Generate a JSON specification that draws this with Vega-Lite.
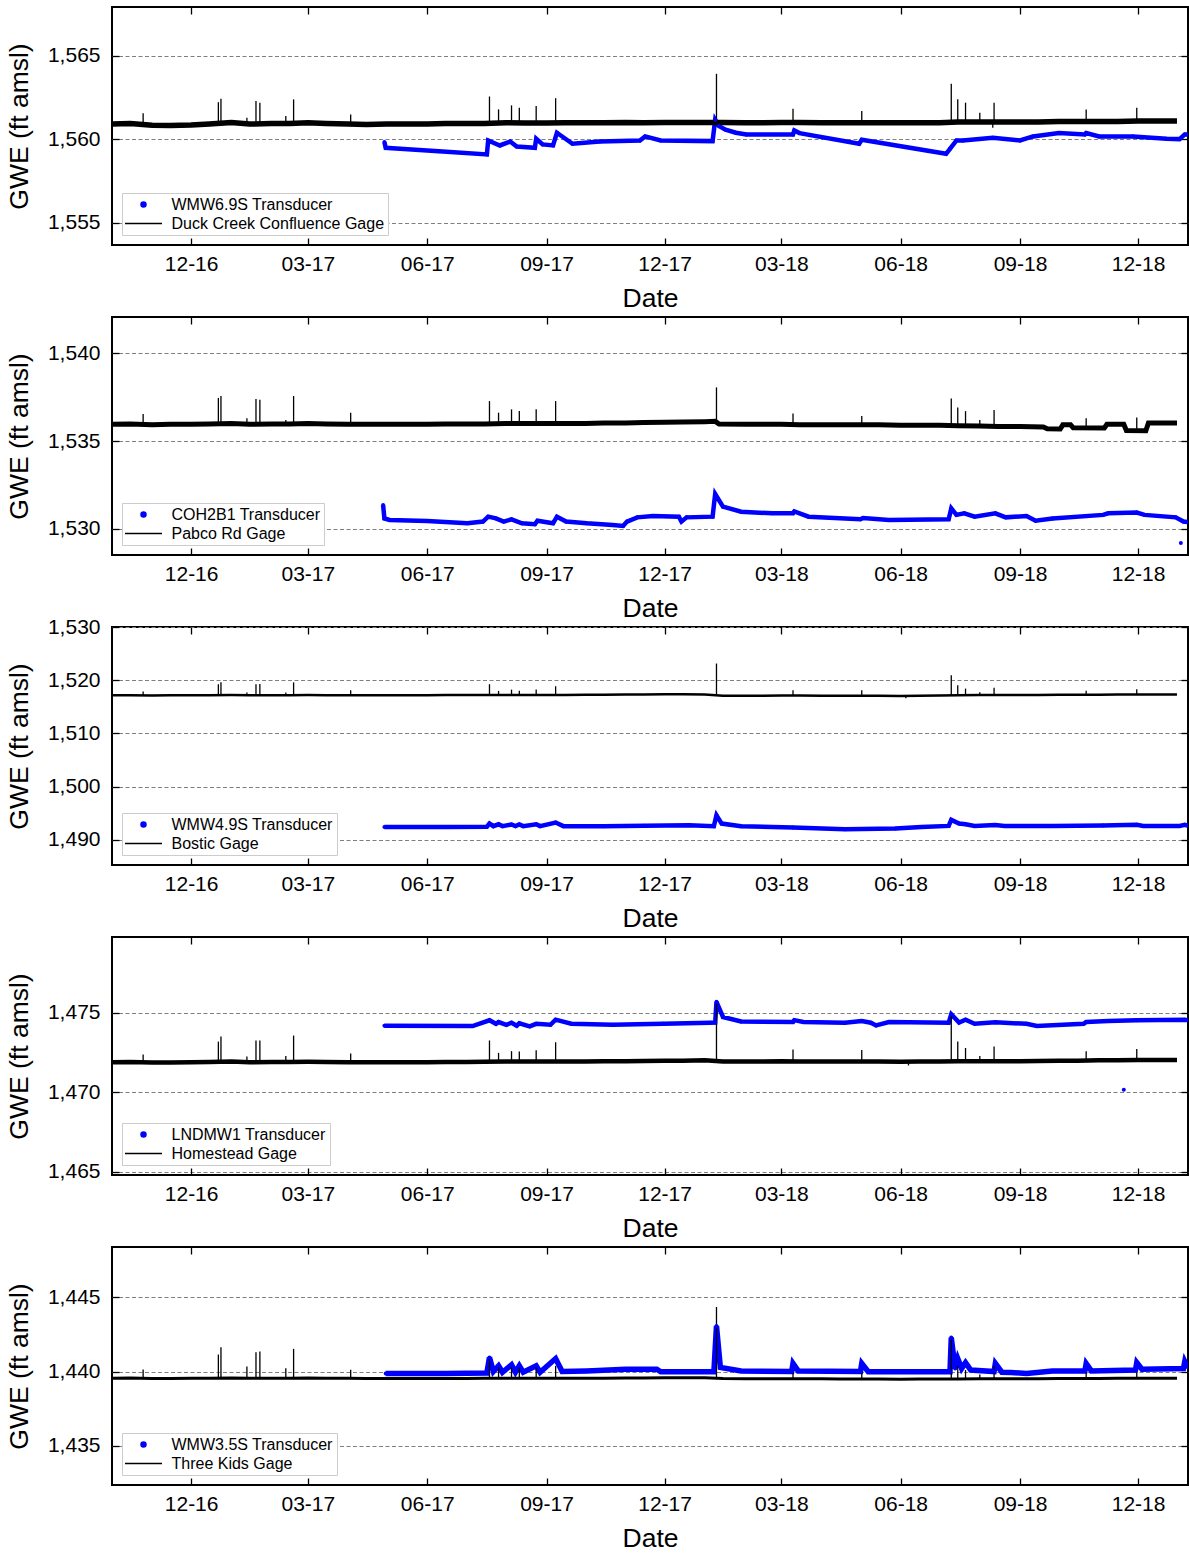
{
"$schema": "https://vega.github.io/schema/vega-lite/v6.json",
"padding": {"left": 5, "top": 5, "right": 0, "bottom": 0},
"background": "white",
"spacing": 72,
"bounds": "flush",
"datasets": {
"t1": [{"d":"2017-04-29","v":1559.85},{"d":"2017-04-30","v":1559.5},{"d":"2017-05-11","v":1559.44},{"d":"2017-06-10","v":1559.3},{"d":"2017-07-17","v":1559.1},{"d":"2017-07-18","v":1559.94},{"d":"2017-07-27","v":1559.64},{"d":"2017-08-04","v":1559.88},{"d":"2017-08-09","v":1559.58},{"d":"2017-08-23","v":1559.5},{"d":"2017-08-24","v":1560.04},{"d":"2017-08-29","v":1559.7},{"d":"2017-09-06","v":1559.64},{"d":"2017-09-09","v":1560.4},{"d":"2017-09-21","v":1559.74},{"d":"2017-10-12","v":1559.88},{"d":"2017-11-12","v":1559.94},{"d":"2017-11-16","v":1560.18},{"d":"2017-11-28","v":1559.94},{"d":"2018-01-07","v":1559.9},{"d":"2018-01-09","v":1561.18},{"d":"2018-01-12","v":1560.8},{"d":"2018-01-17","v":1560.58},{"d":"2018-01-25","v":1560.4},{"d":"2018-02-02","v":1560.3},{"d":"2018-03-10","v":1560.3},{"d":"2018-03-11","v":1560.54},{"d":"2018-03-15","v":1560.38},{"d":"2018-04-30","v":1559.74},{"d":"2018-05-02","v":1559.98},{"d":"2018-07-06","v":1559.14},{"d":"2018-07-09","v":1559.44},{"d":"2018-07-14","v":1559.94},{"d":"2018-07-19","v":1559.94},{"d":"2018-08-11","v":1560.1},{"d":"2018-09-01","v":1559.94},{"d":"2018-09-11","v":1560.18},{"d":"2018-10-01","v":1560.38},{"d":"2018-10-21","v":1560.3},{"d":"2018-10-22","v":1560.38},{"d":"2018-11-01","v":1560.18},{"d":"2018-11-27","v":1560.18},{"d":"2018-12-23","v":1560.04},{"d":"2019-01-02","v":1560.02},{"d":"2019-01-06","v":1560.3},{"d":"2019-01-08","v":1560.3}],
"g1": [{"d":"2016-10-01","v":1560.92},{"d":"2016-10-15","v":1560.95},{"d":"2016-11-01","v":1560.85},{"d":"2016-11-15","v":1560.84},{"d":"2016-12-01","v":1560.86},{"d":"2016-12-15","v":1560.92},{"d":"2017-01-01","v":1561.02},{"d":"2017-01-15","v":1560.92},{"d":"2017-02-01","v":1560.95},{"d":"2017-02-15","v":1560.95},{"d":"2017-03-01","v":1561.0},{"d":"2017-03-15","v":1560.96},{"d":"2017-04-01","v":1560.92},{"d":"2017-04-15","v":1560.9},{"d":"2017-05-01","v":1560.92},{"d":"2017-05-15","v":1560.92},{"d":"2017-06-01","v":1560.93},{"d":"2017-06-15","v":1560.95},{"d":"2017-07-01","v":1560.95},{"d":"2017-07-15","v":1560.95},{"d":"2017-08-01","v":1561.0},{"d":"2017-08-15","v":1560.98},{"d":"2017-09-01","v":1560.98},{"d":"2017-09-15","v":1561.0},{"d":"2017-10-01","v":1561.0},{"d":"2017-10-15","v":1561.0},{"d":"2017-11-01","v":1561.02},{"d":"2017-11-15","v":1561.0},{"d":"2017-12-01","v":1561.02},{"d":"2017-12-15","v":1561.02},{"d":"2018-01-01","v":1561.02},{"d":"2018-01-15","v":1561.02},{"d":"2018-02-01","v":1561.0},{"d":"2018-02-15","v":1561.0},{"d":"2018-03-01","v":1561.02},{"d":"2018-03-15","v":1561.02},{"d":"2018-04-01","v":1561.0},{"d":"2018-04-15","v":1561.0},{"d":"2018-05-01","v":1561.0},{"d":"2018-05-15","v":1561.0},{"d":"2018-06-01","v":1561.0},{"d":"2018-06-15","v":1561.0},{"d":"2018-07-01","v":1561.0},{"d":"2018-07-15","v":1561.05},{"d":"2018-08-01","v":1561.05},{"d":"2018-08-15","v":1561.05},{"d":"2018-09-01","v":1561.05},{"d":"2018-09-15","v":1561.05},{"d":"2018-10-01","v":1561.07},{"d":"2018-10-15","v":1561.07},{"d":"2018-11-01","v":1561.07},{"d":"2018-11-15","v":1561.08},{"d":"2018-12-01","v":1561.1},{"d":"2018-12-15","v":1561.1},{"d":"2018-12-31","v":1561.1}],
"s1": [{"d":"2016-10-25","v":1560.9,"p":1561.57},{"d":"2016-12-22","v":1560.9,"p":1562.23},{"d":"2016-12-24","v":1560.95,"p":1562.43},{"d":"2017-01-13","v":1560.95,"p":1561.3},{"d":"2017-01-20","v":1560.95,"p":1562.3},{"d":"2017-01-23","v":1560.95,"p":1562.2},{"d":"2017-02-12","v":1560.95,"p":1561.4},{"d":"2017-02-18","v":1560.95,"p":1562.4},{"d":"2017-04-03","v":1560.92,"p":1561.5},{"d":"2017-07-19","v":1560.95,"p":1562.57},{"d":"2017-07-26","v":1560.97,"p":1561.8},{"d":"2017-08-05","v":1561.0,"p":1562.04},{"d":"2017-08-11","v":1561.0,"p":1561.9},{"d":"2017-08-24","v":1561.0,"p":1562.0},{"d":"2017-09-08","v":1561.0,"p":1562.47},{"d":"2018-01-10","v":1561.02,"p":1563.93},{"d":"2018-03-10","v":1561.02,"p":1561.84},{"d":"2018-05-02","v":1561.0,"p":1561.7},{"d":"2018-07-10","v":1561.05,"p":1563.33},{"d":"2018-07-15","v":1561.05,"p":1562.4},{"d":"2018-07-21","v":1561.05,"p":1562.2},{"d":"2018-08-01","v":1561.05,"p":1561.6},{"d":"2018-08-11","v":1561.05,"p":1560.7},{"d":"2018-08-12","v":1561.05,"p":1562.2},{"d":"2018-10-22","v":1561.07,"p":1561.8},{"d":"2018-11-30","v":1561.1,"p":1561.9}],
"t2": [{"d":"2017-04-28","v":1531.36},{"d":"2017-04-29","v":1530.6},{"d":"2017-05-03","v":1530.51},{"d":"2017-06-01","v":1530.45},{"d":"2017-07-02","v":1530.32},{"d":"2017-07-14","v":1530.42},{"d":"2017-07-18","v":1530.7},{"d":"2017-07-24","v":1530.6},{"d":"2017-07-30","v":1530.42},{"d":"2017-08-05","v":1530.55},{"d":"2017-08-13","v":1530.32},{"d":"2017-08-23","v":1530.27},{"d":"2017-08-25","v":1530.47},{"d":"2017-09-06","v":1530.32},{"d":"2017-09-09","v":1530.7},{"d":"2017-09-16","v":1530.42},{"d":"2017-10-02","v":1530.32},{"d":"2017-10-22","v":1530.23},{"d":"2017-10-30","v":1530.17},{"d":"2017-11-02","v":1530.42},{"d":"2017-11-10","v":1530.66},{"d":"2017-11-22","v":1530.74},{"d":"2017-12-12","v":1530.7},{"d":"2017-12-14","v":1530.42},{"d":"2017-12-18","v":1530.66},{"d":"2018-01-07","v":1530.7},{"d":"2018-01-09","v":1531.99},{"d":"2018-01-15","v":1531.27},{"d":"2018-01-29","v":1530.98},{"d":"2018-02-22","v":1530.89},{"d":"2018-03-10","v":1530.89},{"d":"2018-03-11","v":1531.0},{"d":"2018-03-22","v":1530.7},{"d":"2018-05-01","v":1530.55},{"d":"2018-05-03","v":1530.62},{"d":"2018-05-23","v":1530.51},{"d":"2018-07-08","v":1530.55},{"d":"2018-07-10","v":1531.17},{"d":"2018-07-14","v":1530.8},{"d":"2018-07-20","v":1530.89},{"d":"2018-07-28","v":1530.7},{"d":"2018-08-13","v":1530.89},{"d":"2018-08-21","v":1530.66},{"d":"2018-09-06","v":1530.74},{"d":"2018-09-13","v":1530.47},{"d":"2018-09-26","v":1530.6},{"d":"2018-11-04","v":1530.8},{"d":"2018-11-08","v":1530.89},{"d":"2018-11-30","v":1530.93},{"d":"2018-12-06","v":1530.8},{"d":"2018-12-30","v":1530.66},{"d":"2019-01-05","v":1530.42},{"d":"2019-01-08","v":1530.4},{"d":"2019-01-03","v":1529.2,"o":1}],
"g2": [{"d":"2016-10-01","v":1535.95},{"d":"2016-10-15","v":1535.97},{"d":"2016-11-01","v":1535.93},{"d":"2016-11-15","v":1535.95},{"d":"2016-12-01","v":1535.95},{"d":"2016-12-15","v":1535.97},{"d":"2017-01-01","v":1536.0},{"d":"2017-01-15","v":1535.95},{"d":"2017-02-01","v":1535.97},{"d":"2017-02-15","v":1535.97},{"d":"2017-03-01","v":1536.0},{"d":"2017-03-15","v":1535.97},{"d":"2017-04-01","v":1535.95},{"d":"2017-04-15","v":1535.95},{"d":"2017-05-01","v":1535.95},{"d":"2017-05-15","v":1535.95},{"d":"2017-06-01","v":1535.95},{"d":"2017-06-15","v":1535.97},{"d":"2017-07-01","v":1535.97},{"d":"2017-07-15","v":1535.97},{"d":"2017-08-01","v":1536.0},{"d":"2017-08-15","v":1536.0},{"d":"2017-09-01","v":1536.0},{"d":"2017-09-15","v":1536.0},{"d":"2017-10-01","v":1536.0},{"d":"2017-10-15","v":1536.02},{"d":"2017-11-01","v":1536.03},{"d":"2017-11-15","v":1536.05},{"d":"2017-12-01","v":1536.07},{"d":"2017-12-15","v":1536.08},{"d":"2018-01-01","v":1536.1},{"d":"2018-01-09","v":1536.12},{"d":"2018-01-12","v":1535.97},{"d":"2018-02-01","v":1535.95},{"d":"2018-02-15","v":1535.95},{"d":"2018-03-01","v":1535.95},{"d":"2018-03-15","v":1535.93},{"d":"2018-04-01","v":1535.93},{"d":"2018-04-15","v":1535.92},{"d":"2018-05-01","v":1535.92},{"d":"2018-05-15","v":1535.92},{"d":"2018-06-01","v":1535.9},{"d":"2018-06-15","v":1535.9},{"d":"2018-07-01","v":1535.9},{"d":"2018-07-15","v":1535.87},{"d":"2018-08-01","v":1535.85},{"d":"2018-08-15","v":1535.83},{"d":"2018-09-01","v":1535.82},{"d":"2018-09-19","v":1535.8},{"d":"2018-09-22","v":1535.7},{"d":"2018-10-02","v":1535.68},{"d":"2018-10-04","v":1535.92},{"d":"2018-10-10","v":1535.92},{"d":"2018-10-12","v":1535.75},{"d":"2018-11-05","v":1535.74},{"d":"2018-11-07","v":1535.95},{"d":"2018-11-20","v":1535.95},{"d":"2018-11-22","v":1535.6},{"d":"2018-12-07","v":1535.58},{"d":"2018-12-09","v":1536.02},{"d":"2018-12-20","v":1536.03},{"d":"2018-12-31","v":1536.03}],
"s2": [{"d":"2016-10-25","v":1535.95,"p":1536.53},{"d":"2016-12-22","v":1535.96,"p":1537.45},{"d":"2016-12-24","v":1535.97,"p":1537.56},{"d":"2017-01-13","v":1535.96,"p":1536.3},{"d":"2017-01-20","v":1535.96,"p":1537.39},{"d":"2017-01-23","v":1535.96,"p":1537.35},{"d":"2017-02-12","v":1535.97,"p":1536.2},{"d":"2017-02-18","v":1535.97,"p":1537.56},{"d":"2017-04-03","v":1535.95,"p":1536.6},{"d":"2017-07-19","v":1535.97,"p":1537.27},{"d":"2017-07-26","v":1535.98,"p":1536.61},{"d":"2017-08-05","v":1536.0,"p":1536.8},{"d":"2017-08-11","v":1536.0,"p":1536.7},{"d":"2017-08-24","v":1536.0,"p":1536.8},{"d":"2017-09-08","v":1536.0,"p":1537.27},{"d":"2018-01-10","v":1536.05,"p":1538.05},{"d":"2018-03-10","v":1535.95,"p":1536.57},{"d":"2018-05-02","v":1535.92,"p":1536.42},{"d":"2018-07-10","v":1535.88,"p":1537.42},{"d":"2018-07-15","v":1535.87,"p":1536.91},{"d":"2018-07-21","v":1535.86,"p":1536.7},{"d":"2018-08-01","v":1535.85,"p":1536.19},{"d":"2018-08-12","v":1535.84,"p":1536.76},{"d":"2018-10-22","v":1535.74,"p":1536.29},{"d":"2018-11-30","v":1535.6,"p":1536.34}],
"t3": [{"d":"2017-04-29","v":1492.45},{"d":"2017-06-15","v":1492.45},{"d":"2017-07-17","v":1492.5},{"d":"2017-07-19","v":1493.08},{"d":"2017-07-22","v":1492.6},{"d":"2017-07-26","v":1492.95},{"d":"2017-07-29","v":1492.6},{"d":"2017-08-05","v":1492.9},{"d":"2017-08-08","v":1492.6},{"d":"2017-08-11","v":1492.9},{"d":"2017-08-14","v":1492.6},{"d":"2017-08-24","v":1492.95},{"d":"2017-08-27","v":1492.6},{"d":"2017-09-08","v":1493.27},{"d":"2017-09-14","v":1492.6},{"d":"2017-10-15","v":1492.6},{"d":"2017-11-15","v":1492.65},{"d":"2017-12-20","v":1492.75},{"d":"2018-01-08","v":1492.6},{"d":"2018-01-10","v":1494.65},{"d":"2018-01-14","v":1493.08},{"d":"2018-01-29","v":1492.58},{"d":"2018-03-10","v":1492.33},{"d":"2018-04-19","v":1492.0},{"d":"2018-05-28","v":1492.14},{"d":"2018-06-17","v":1492.45},{"d":"2018-07-08","v":1492.64},{"d":"2018-07-10","v":1493.77},{"d":"2018-07-16","v":1493.08},{"d":"2018-07-21","v":1492.95},{"d":"2018-07-28","v":1492.64},{"d":"2018-08-13","v":1492.8},{"d":"2018-08-20","v":1492.64},{"d":"2018-09-26","v":1492.64},{"d":"2018-11-04","v":1492.7},{"d":"2018-11-30","v":1492.85},{"d":"2018-12-05","v":1492.64},{"d":"2019-01-02","v":1492.64},{"d":"2019-01-06","v":1492.85},{"d":"2019-01-08","v":1492.7}],
"g3": [{"d":"2016-10-01","v":1517.18},{"d":"2016-10-15","v":1517.2},{"d":"2016-11-01","v":1517.15},{"d":"2016-11-15","v":1517.18},{"d":"2016-12-01","v":1517.2},{"d":"2016-12-15","v":1517.2},{"d":"2017-01-01","v":1517.22},{"d":"2017-01-15","v":1517.18},{"d":"2017-02-01","v":1517.2},{"d":"2017-02-15","v":1517.2},{"d":"2017-03-01","v":1517.22},{"d":"2017-03-15","v":1517.2},{"d":"2017-04-01","v":1517.18},{"d":"2017-04-15","v":1517.2},{"d":"2017-05-01","v":1517.2},{"d":"2017-05-15","v":1517.2},{"d":"2017-06-01","v":1517.2},{"d":"2017-06-15","v":1517.22},{"d":"2017-07-01","v":1517.22},{"d":"2017-07-15","v":1517.22},{"d":"2017-08-01","v":1517.25},{"d":"2017-08-15","v":1517.25},{"d":"2017-09-01","v":1517.25},{"d":"2017-09-15","v":1517.25},{"d":"2017-10-01","v":1517.27},{"d":"2017-10-15","v":1517.28},{"d":"2017-11-01","v":1517.3},{"d":"2017-11-15","v":1517.32},{"d":"2017-12-01","v":1517.35},{"d":"2017-12-15","v":1517.35},{"d":"2018-01-01","v":1517.32},{"d":"2018-01-15","v":1517.1},{"d":"2018-02-01","v":1517.1},{"d":"2018-02-15","v":1517.1},{"d":"2018-03-01","v":1517.12},{"d":"2018-03-15","v":1517.12},{"d":"2018-04-01","v":1517.1},{"d":"2018-04-15","v":1517.1},{"d":"2018-05-01","v":1517.1},{"d":"2018-05-15","v":1517.08},{"d":"2018-06-01","v":1517.05},{"d":"2018-06-15","v":1517.08},{"d":"2018-07-01","v":1517.12},{"d":"2018-07-15","v":1517.2},{"d":"2018-08-01","v":1517.22},{"d":"2018-08-15","v":1517.25},{"d":"2018-09-01","v":1517.25},{"d":"2018-09-15","v":1517.25},{"d":"2018-10-01","v":1517.27},{"d":"2018-10-15","v":1517.27},{"d":"2018-11-01","v":1517.28},{"d":"2018-11-15","v":1517.3},{"d":"2018-12-01","v":1517.32},{"d":"2018-12-15","v":1517.32},{"d":"2018-12-31","v":1517.32}],
"s3": [{"d":"2016-10-25","v":1517.2,"p":1517.9},{"d":"2016-12-22","v":1517.2,"p":1519.25},{"d":"2016-12-24","v":1517.2,"p":1519.6},{"d":"2017-01-13","v":1517.2,"p":1517.7},{"d":"2017-01-20","v":1517.2,"p":1519.25},{"d":"2017-01-23","v":1517.2,"p":1519.3},{"d":"2017-02-12","v":1517.2,"p":1517.7},{"d":"2017-02-18","v":1517.2,"p":1519.6},{"d":"2017-04-03","v":1517.18,"p":1518.1},{"d":"2017-07-19","v":1517.22,"p":1519.25},{"d":"2017-07-26","v":1517.23,"p":1518.0},{"d":"2017-08-05","v":1517.25,"p":1518.24},{"d":"2017-08-11","v":1517.25,"p":1518.05},{"d":"2017-08-24","v":1517.25,"p":1518.24},{"d":"2017-09-08","v":1517.25,"p":1518.87},{"d":"2018-01-10","v":1517.2,"p":1523.14},{"d":"2018-03-10","v":1517.12,"p":1518.1},{"d":"2018-05-02","v":1517.1,"p":1518.1},{"d":"2018-06-05","v":1517.05,"p":1516.6},{"d":"2018-07-10","v":1517.15,"p":1520.94},{"d":"2018-07-15","v":1517.2,"p":1519.06},{"d":"2018-07-21","v":1517.2,"p":1518.43},{"d":"2018-08-01","v":1517.22,"p":1517.74},{"d":"2018-08-12","v":1517.24,"p":1518.6},{"d":"2018-10-22","v":1517.27,"p":1518.05},{"d":"2018-11-30","v":1517.32,"p":1518.3}],
"t4": [{"d":"2017-04-29","v":1474.2},{"d":"2017-07-06","v":1474.18},{"d":"2017-07-19","v":1474.54},{"d":"2017-07-24","v":1474.32},{"d":"2017-07-26","v":1474.43},{"d":"2017-08-01","v":1474.26},{"d":"2017-08-05","v":1474.39},{"d":"2017-08-09","v":1474.2},{"d":"2017-08-11","v":1474.35},{"d":"2017-08-19","v":1474.16},{"d":"2017-08-24","v":1474.32},{"d":"2017-09-04","v":1474.26},{"d":"2017-09-08","v":1474.58},{"d":"2017-09-20","v":1474.33},{"d":"2017-10-22","v":1474.26},{"d":"2017-11-30","v":1474.33},{"d":"2018-01-05","v":1474.39},{"d":"2018-01-09","v":1474.4},{"d":"2018-01-10","v":1475.7},{"d":"2018-01-15","v":1474.75},{"d":"2018-01-29","v":1474.47},{"d":"2018-03-10","v":1474.43},{"d":"2018-03-11","v":1474.55},{"d":"2018-03-18","v":1474.43},{"d":"2018-04-19","v":1474.39},{"d":"2018-05-02","v":1474.49},{"d":"2018-05-09","v":1474.39},{"d":"2018-05-13","v":1474.22},{"d":"2018-05-23","v":1474.43},{"d":"2018-07-08","v":1474.39},{"d":"2018-07-10","v":1474.92},{"d":"2018-07-16","v":1474.4},{"d":"2018-07-21","v":1474.58},{"d":"2018-07-28","v":1474.32},{"d":"2018-08-13","v":1474.41},{"d":"2018-09-06","v":1474.32},{"d":"2018-09-14","v":1474.18},{"d":"2018-10-20","v":1474.32},{"d":"2018-10-22","v":1474.43},{"d":"2018-11-08","v":1474.49},{"d":"2018-11-30","v":1474.54},{"d":"2019-01-06","v":1474.58},{"d":"2019-01-08","v":1474.55},{"d":"2018-11-20","v":1470.17,"o":1}],
"g4": [{"d":"2016-10-01","v":1471.9},{"d":"2016-10-15","v":1471.92},{"d":"2016-11-01","v":1471.88},{"d":"2016-11-15","v":1471.88},{"d":"2016-12-01","v":1471.9},{"d":"2016-12-15","v":1471.92},{"d":"2017-01-01","v":1471.95},{"d":"2017-01-15","v":1471.9},{"d":"2017-02-01","v":1471.92},{"d":"2017-02-15","v":1471.92},{"d":"2017-03-01","v":1471.93},{"d":"2017-03-15","v":1471.92},{"d":"2017-04-01","v":1471.9},{"d":"2017-04-15","v":1471.9},{"d":"2017-05-01","v":1471.9},{"d":"2017-05-15","v":1471.9},{"d":"2017-06-01","v":1471.9},{"d":"2017-06-15","v":1471.92},{"d":"2017-07-01","v":1471.92},{"d":"2017-07-15","v":1471.93},{"d":"2017-08-01","v":1471.95},{"d":"2017-08-15","v":1471.95},{"d":"2017-09-01","v":1471.95},{"d":"2017-09-15","v":1471.95},{"d":"2017-10-01","v":1471.95},{"d":"2017-10-15","v":1471.97},{"d":"2017-11-01","v":1471.97},{"d":"2017-11-15","v":1471.98},{"d":"2017-12-01","v":1472.0},{"d":"2017-12-15","v":1472.0},{"d":"2018-01-01","v":1472.02},{"d":"2018-01-15","v":1471.95},{"d":"2018-02-01","v":1471.95},{"d":"2018-02-15","v":1471.95},{"d":"2018-03-01","v":1471.97},{"d":"2018-03-15","v":1471.95},{"d":"2018-04-01","v":1471.95},{"d":"2018-04-15","v":1471.95},{"d":"2018-05-01","v":1471.95},{"d":"2018-05-15","v":1471.95},{"d":"2018-06-01","v":1471.93},{"d":"2018-06-15","v":1471.95},{"d":"2018-07-01","v":1471.95},{"d":"2018-07-15","v":1471.97},{"d":"2018-08-01","v":1471.97},{"d":"2018-08-15","v":1471.97},{"d":"2018-09-01","v":1471.97},{"d":"2018-09-15","v":1471.98},{"d":"2018-10-01","v":1472.0},{"d":"2018-10-15","v":1472.0},{"d":"2018-11-01","v":1472.02},{"d":"2018-11-15","v":1472.03},{"d":"2018-12-01","v":1472.05},{"d":"2018-12-15","v":1472.05},{"d":"2018-12-31","v":1472.05}],
"s4": [{"d":"2016-10-25","v":1471.9,"p":1472.39},{"d":"2016-12-22","v":1471.92,"p":1473.2},{"d":"2016-12-24","v":1471.92,"p":1473.52},{"d":"2017-01-13","v":1471.92,"p":1472.26},{"d":"2017-01-20","v":1471.92,"p":1473.27},{"d":"2017-01-23","v":1471.92,"p":1473.27},{"d":"2017-02-12","v":1471.92,"p":1472.3},{"d":"2017-02-18","v":1471.92,"p":1473.58},{"d":"2017-04-03","v":1471.9,"p":1472.45},{"d":"2017-07-19","v":1471.93,"p":1473.27},{"d":"2017-07-26","v":1471.94,"p":1472.49},{"d":"2017-08-05","v":1471.95,"p":1472.6},{"d":"2017-08-11","v":1471.95,"p":1472.58},{"d":"2017-08-24","v":1471.95,"p":1472.65},{"d":"2017-09-08","v":1471.95,"p":1473.16},{"d":"2018-01-10","v":1471.98,"p":1475.8},{"d":"2018-03-10","v":1471.96,"p":1472.7},{"d":"2018-05-02","v":1471.95,"p":1472.68},{"d":"2018-06-07","v":1471.93,"p":1471.7},{"d":"2018-07-10","v":1471.96,"p":1474.96},{"d":"2018-07-15","v":1471.97,"p":1473.2},{"d":"2018-07-21","v":1471.97,"p":1472.8},{"d":"2018-08-01","v":1471.97,"p":1472.3},{"d":"2018-08-12","v":1471.97,"p":1472.89},{"d":"2018-10-22","v":1472.0,"p":1472.6},{"d":"2018-11-30","v":1472.05,"p":1472.74}],
"t5": [{"d":"2017-04-30","v":1439.87},{"d":"2017-06-15","v":1439.87},{"d":"2017-07-17","v":1439.9},{"d":"2017-07-19","v":1440.94},{"d":"2017-07-22","v":1440.0},{"d":"2017-07-26","v":1440.38},{"d":"2017-07-29","v":1439.95},{"d":"2017-08-05","v":1440.45},{"d":"2017-08-08","v":1439.95},{"d":"2017-08-11","v":1440.38},{"d":"2017-08-14","v":1439.95},{"d":"2017-08-24","v":1440.38},{"d":"2017-08-27","v":1439.95},{"d":"2017-09-08","v":1440.87},{"d":"2017-09-13","v":1440.0},{"d":"2017-10-02","v":1440.04},{"d":"2017-11-01","v":1440.15},{"d":"2017-11-25","v":1440.15},{"d":"2017-11-28","v":1439.98},{"d":"2018-01-08","v":1439.98},{"d":"2018-01-10","v":1443.06},{"d":"2018-01-13","v":1440.27},{"d":"2018-01-29","v":1440.04},{"d":"2018-03-09","v":1440.0},{"d":"2018-03-10","v":1440.54},{"d":"2018-03-14","v":1440.04},{"d":"2018-05-01","v":1440.0},{"d":"2018-05-02","v":1440.54},{"d":"2018-05-07","v":1439.98},{"d":"2018-07-09","v":1439.98},{"d":"2018-07-10","v":1442.28},{"d":"2018-07-13","v":1440.2},{"d":"2018-07-15","v":1440.87},{"d":"2018-07-18","v":1440.2},{"d":"2018-07-21","v":1440.6},{"d":"2018-07-25","v":1440.1},{"d":"2018-08-12","v":1440.0},{"d":"2018-08-13","v":1440.54},{"d":"2018-08-18","v":1439.95},{"d":"2018-08-25","v":1439.93},{"d":"2018-09-06","v":1439.87},{"d":"2018-09-26","v":1440.04},{"d":"2018-10-21","v":1440.04},{"d":"2018-10-22","v":1440.54},{"d":"2018-10-26","v":1440.04},{"d":"2018-11-29","v":1440.1},{"d":"2018-11-30","v":1440.6},{"d":"2018-12-04","v":1440.15},{"d":"2019-01-05","v":1440.2},{"d":"2019-01-06","v":1440.67},{"d":"2019-01-08","v":1440.3}],
"g5": [{"d":"2016-10-01","v":1439.55},{"d":"2016-10-15","v":1439.57},{"d":"2016-11-01","v":1439.53},{"d":"2016-11-15","v":1439.53},{"d":"2016-12-01","v":1439.55},{"d":"2016-12-15","v":1439.55},{"d":"2017-01-01","v":1439.57},{"d":"2017-01-15","v":1439.55},{"d":"2017-02-01","v":1439.55},{"d":"2017-02-15","v":1439.55},{"d":"2017-03-01","v":1439.57},{"d":"2017-03-15","v":1439.55},{"d":"2017-04-01","v":1439.55},{"d":"2017-04-15","v":1439.53},{"d":"2017-05-01","v":1439.53},{"d":"2017-05-15","v":1439.53},{"d":"2017-06-01","v":1439.53},{"d":"2017-06-15","v":1439.53},{"d":"2017-07-01","v":1439.53},{"d":"2017-07-15","v":1439.55},{"d":"2017-08-01","v":1439.55},{"d":"2017-08-15","v":1439.55},{"d":"2017-09-01","v":1439.55},{"d":"2017-09-15","v":1439.55},{"d":"2017-10-01","v":1439.55},{"d":"2017-10-15","v":1439.55},{"d":"2017-11-01","v":1439.57},{"d":"2017-11-15","v":1439.57},{"d":"2017-12-01","v":1439.58},{"d":"2017-12-15","v":1439.58},{"d":"2018-01-01","v":1439.58},{"d":"2018-01-15","v":1439.53},{"d":"2018-02-01","v":1439.52},{"d":"2018-02-15","v":1439.52},{"d":"2018-03-01","v":1439.52},{"d":"2018-03-15","v":1439.52},{"d":"2018-04-01","v":1439.52},{"d":"2018-04-15","v":1439.5},{"d":"2018-05-01","v":1439.5},{"d":"2018-05-15","v":1439.5},{"d":"2018-06-01","v":1439.48},{"d":"2018-06-15","v":1439.5},{"d":"2018-07-01","v":1439.5},{"d":"2018-07-15","v":1439.5},{"d":"2018-08-01","v":1439.52},{"d":"2018-08-15","v":1439.52},{"d":"2018-09-01","v":1439.52},{"d":"2018-09-15","v":1439.52},{"d":"2018-10-01","v":1439.53},{"d":"2018-10-15","v":1439.53},{"d":"2018-11-01","v":1439.53},{"d":"2018-11-15","v":1439.55},{"d":"2018-12-01","v":1439.55},{"d":"2018-12-15","v":1439.55},{"d":"2018-12-31","v":1439.55}],
"s5": [{"d":"2016-10-25","v":1439.55,"p":1440.13},{"d":"2016-12-22","v":1439.55,"p":1441.14},{"d":"2016-12-24","v":1439.55,"p":1441.63},{"d":"2017-01-13","v":1439.56,"p":1440.33},{"d":"2017-01-20","v":1439.56,"p":1441.3},{"d":"2017-01-23","v":1439.56,"p":1441.34},{"d":"2017-02-12","v":1439.55,"p":1440.22},{"d":"2017-02-18","v":1439.55,"p":1441.52},{"d":"2017-04-03","v":1439.55,"p":1440.11},{"d":"2017-07-19","v":1439.55,"p":1440.98},{"d":"2017-07-26","v":1439.55,"p":1440.38},{"d":"2017-08-05","v":1439.55,"p":1440.27},{"d":"2017-08-11","v":1439.55,"p":1440.22},{"d":"2017-08-24","v":1439.55,"p":1440.31},{"d":"2017-09-08","v":1439.55,"p":1440.38},{"d":"2018-01-10","v":1439.56,"p":1444.33},{"d":"2018-03-10","v":1439.52,"p":1440.04},{"d":"2018-05-02","v":1439.5,"p":1440.0},{"d":"2018-07-10","v":1439.5,"p":1442.23},{"d":"2018-07-15","v":1439.5,"p":1440.4},{"d":"2018-07-21","v":1439.51,"p":1440.1},{"d":"2018-08-01","v":1439.52,"p":1439.8},{"d":"2018-08-12","v":1439.52,"p":1440.38},{"d":"2018-10-22","v":1439.53,"p":1439.93},{"d":"2018-11-30","v":1439.55,"p":1439.93}]
},
"vconcat": [
{"width": 1076, "height": 238,
 "layer": [
  {"encoding": {
    "x": {"field": "d", "type": "temporal", "scale": {"type": "utc", "domain": [{"year": 2016, "month": 10, "date": 1, "utc": true}, {"year": 2019, "month": 1, "date": 8, "hours": 12, "utc": true}]}, "axis": {"orient": "bottom", "title": "Date", "format": "%m-%y", "values": [{"year":2016,"month":12,"date":1,"utc":true},{"year":2017,"month":3,"date":1,"utc":true},{"year":2017,"month":6,"date":1,"utc":true},{"year":2017,"month":9,"date":1,"utc":true},{"year":2017,"month":12,"date":1,"utc":true},{"year":2018,"month":3,"date":1,"utc":true},{"year":2018,"month":6,"date":1,"utc":true},{"year":2018,"month":9,"date":1,"utc":true},{"year":2018,"month":12,"date":1,"utc":true}]}},
    "y": {"field": "v", "type": "quantitative", "scale": {"domain": [1553.68, 1567.93], "nice": false, "zero": false}, "axis": {"title": "GWE (ft amsl)", "format": ",.0f", "values": [1555, 1560, 1565], "grid": true}}},
   "layer": [
    {"data": {"name": "t1"}, "transform": [{"filter": "!datum.o"}], "mark": {"type": "line", "strokeWidth": 4.5, "clip": true}, "encoding": {"color": {"datum": "WMW6.9S Transducer", "type": "nominal", "scale": {"domain": ["WMW6.9S Transducer", "Duck Creek Confluence Gage"], "range": ["#0000ff", "#000000"]}}}},
    {"data": {"name": "g1"}, "mark": {"type": "line", "strokeWidth": 5.5, "clip": true}, "encoding": {"color": {"datum": "Duck Creek Confluence Gage", "type": "nominal", "scale": {"domain": ["WMW6.9S Transducer", "Duck Creek Confluence Gage"], "range": ["#0000ff", "#000000"]}}}},
    {"data": {"name": "s1"}, "mark": {"type": "rule", "color": "black", "strokeWidth": 1.3}, "encoding": {"y2": {"field": "p"}}}
   ]},
  {"data": {"name": "t1"}, "mark": {"type": "point", "filled": true, "size": 16, "opacity": 1, "clip": true},
   "encoding": {
    "x": {"field": "d", "type": "temporal", "scale": {"type": "utc", "domain": [{"year": 2016, "month": 10, "date": 1, "utc": true}, {"year": 2019, "month": 1, "date": 8, "hours": 12, "utc": true}]}, "axis": {"orient": "top", "title": null, "labels": false, "values": [{"year":2016,"month":12,"date":1,"utc":true},{"year":2017,"month":3,"date":1,"utc":true},{"year":2017,"month":6,"date":1,"utc":true},{"year":2017,"month":9,"date":1,"utc":true},{"year":2017,"month":12,"date":1,"utc":true},{"year":2018,"month":3,"date":1,"utc":true},{"year":2018,"month":6,"date":1,"utc":true},{"year":2018,"month":9,"date":1,"utc":true},{"year":2018,"month":12,"date":1,"utc":true}]}},
    "y": {"field": "v", "type": "quantitative", "scale": {"domain": [1553.68, 1567.93], "nice": false, "zero": false}, "axis": {"orient": "right", "title": null, "labels": false, "values": [1555, 1560, 1565]}},
    "color": {"datum": "WMW6.9S Transducer", "type": "nominal", "scale": {"domain": ["WMW6.9S Transducer", "Duck Creek Confluence Gage"], "range": ["#0000ff", "#000000"]}, "legend": {"title": null, "orient": "bottom-left", "offset": 10, "padding": 3.5, "rowPadding": 3, "fillColor": "white", "strokeColor": "#cccccc", "symbolSize": 25, "symbolOffset": 10, "labelOffset": 20, "labelFontSize": 16, "encode": {"symbols": {"stroke": {"condition": {"test": "indexof(datum.value,'Gage')>=0", "value": "black"}, "value": "transparent"}, "strokeWidth": {"value": 1.5}}, "legend": {"strokeWidth": {"value": 2}}}}},
    "shape": {"datum": "WMW6.9S Transducer", "type": "nominal", "scale": {"domain": ["WMW6.9S Transducer", "Duck Creek Confluence Gage"], "range": ["circle", "M-7.4,0H7.4"]}, "legend": {"title": null, "orient": "bottom-left", "offset": 10, "padding": 3.5, "rowPadding": 3, "fillColor": "white", "strokeColor": "#cccccc", "symbolSize": 25, "symbolOffset": 10, "labelOffset": 20, "labelFontSize": 16, "encode": {"symbols": {"stroke": {"condition": {"test": "indexof(datum.value,'Gage')>=0", "value": "black"}, "value": "transparent"}, "strokeWidth": {"value": 1.5}}, "legend": {"strokeWidth": {"value": 2}}}}}
   }}
 ],
 "resolve": {"axis": {"x": "independent", "y": "independent"}}
},
{"width": 1076, "height": 238,
 "layer": [
  {"encoding": {
    "x": {"field": "d", "type": "temporal", "scale": {"type": "utc", "domain": [{"year": 2016, "month": 10, "date": 1, "utc": true}, {"year": 2019, "month": 1, "date": 8, "hours": 12, "utc": true}]}, "axis": {"orient": "bottom", "title": "Date", "format": "%m-%y", "values": [{"year":2016,"month":12,"date":1,"utc":true},{"year":2017,"month":3,"date":1,"utc":true},{"year":2017,"month":6,"date":1,"utc":true},{"year":2017,"month":9,"date":1,"utc":true},{"year":2017,"month":12,"date":1,"utc":true},{"year":2018,"month":3,"date":1,"utc":true},{"year":2018,"month":6,"date":1,"utc":true},{"year":2018,"month":9,"date":1,"utc":true},{"year":2018,"month":12,"date":1,"utc":true}]}},
    "y": {"field": "v", "type": "quantitative", "scale": {"domain": [1528.52, 1542.05], "nice": false, "zero": false}, "axis": {"title": "GWE (ft amsl)", "format": ",.0f", "values": [1530, 1535, 1540], "grid": true}}},
   "layer": [
    {"data": {"name": "t2"}, "transform": [{"filter": "!datum.o"}], "mark": {"type": "line", "strokeWidth": 4.5, "clip": true}, "encoding": {"color": {"datum": "COH2B1 Transducer", "type": "nominal", "scale": {"domain": ["COH2B1 Transducer", "Pabco Rd Gage"], "range": ["#0000ff", "#000000"]}}}},
    {"data": {"name": "g2"}, "mark": {"type": "line", "strokeWidth": 5, "clip": true}, "encoding": {"color": {"datum": "Pabco Rd Gage", "type": "nominal", "scale": {"domain": ["COH2B1 Transducer", "Pabco Rd Gage"], "range": ["#0000ff", "#000000"]}}}},
    {"data": {"name": "s2"}, "mark": {"type": "rule", "color": "black", "strokeWidth": 1.3}, "encoding": {"y2": {"field": "p"}}}
   ]},
  {"data": {"name": "t2"}, "mark": {"type": "point", "filled": true, "size": 16, "opacity": 1, "clip": true},
   "encoding": {
    "x": {"field": "d", "type": "temporal", "scale": {"type": "utc", "domain": [{"year": 2016, "month": 10, "date": 1, "utc": true}, {"year": 2019, "month": 1, "date": 8, "hours": 12, "utc": true}]}, "axis": {"orient": "top", "title": null, "labels": false, "values": [{"year":2016,"month":12,"date":1,"utc":true},{"year":2017,"month":3,"date":1,"utc":true},{"year":2017,"month":6,"date":1,"utc":true},{"year":2017,"month":9,"date":1,"utc":true},{"year":2017,"month":12,"date":1,"utc":true},{"year":2018,"month":3,"date":1,"utc":true},{"year":2018,"month":6,"date":1,"utc":true},{"year":2018,"month":9,"date":1,"utc":true},{"year":2018,"month":12,"date":1,"utc":true}]}},
    "y": {"field": "v", "type": "quantitative", "scale": {"domain": [1528.52, 1542.05], "nice": false, "zero": false}, "axis": {"orient": "right", "title": null, "labels": false, "values": [1530, 1535, 1540]}},
    "color": {"datum": "COH2B1 Transducer", "type": "nominal", "scale": {"domain": ["COH2B1 Transducer", "Pabco Rd Gage"], "range": ["#0000ff", "#000000"]}, "legend": {"title": null, "orient": "bottom-left", "offset": 10, "padding": 3.5, "rowPadding": 3, "fillColor": "white", "strokeColor": "#cccccc", "symbolSize": 25, "symbolOffset": 10, "labelOffset": 20, "labelFontSize": 16, "encode": {"symbols": {"stroke": {"condition": {"test": "indexof(datum.value,'Gage')>=0", "value": "black"}, "value": "transparent"}, "strokeWidth": {"value": 1.5}}, "legend": {"strokeWidth": {"value": 2}}}}},
    "shape": {"datum": "COH2B1 Transducer", "type": "nominal", "scale": {"domain": ["COH2B1 Transducer", "Pabco Rd Gage"], "range": ["circle", "M-7.4,0H7.4"]}, "legend": {"title": null, "orient": "bottom-left", "offset": 10, "padding": 3.5, "rowPadding": 3, "fillColor": "white", "strokeColor": "#cccccc", "symbolSize": 25, "symbolOffset": 10, "labelOffset": 20, "labelFontSize": 16, "encode": {"symbols": {"stroke": {"condition": {"test": "indexof(datum.value,'Gage')>=0", "value": "black"}, "value": "transparent"}, "strokeWidth": {"value": 1.5}}, "legend": {"strokeWidth": {"value": 2}}}}}
   }}
 ],
 "resolve": {"axis": {"x": "independent", "y": "independent"}}
},
{"width": 1076, "height": 238,
 "layer": [
  {"encoding": {
    "x": {"field": "d", "type": "temporal", "scale": {"type": "utc", "domain": [{"year": 2016, "month": 10, "date": 1, "utc": true}, {"year": 2019, "month": 1, "date": 8, "hours": 12, "utc": true}]}, "axis": {"orient": "bottom", "title": "Date", "format": "%m-%y", "values": [{"year":2016,"month":12,"date":1,"utc":true},{"year":2017,"month":3,"date":1,"utc":true},{"year":2017,"month":6,"date":1,"utc":true},{"year":2017,"month":9,"date":1,"utc":true},{"year":2017,"month":12,"date":1,"utc":true},{"year":2018,"month":3,"date":1,"utc":true},{"year":2018,"month":6,"date":1,"utc":true},{"year":2018,"month":9,"date":1,"utc":true},{"year":2018,"month":12,"date":1,"utc":true}]}},
    "y": {"field": "v", "type": "quantitative", "scale": {"domain": [1485.3, 1530], "nice": false, "zero": false}, "axis": {"title": "GWE (ft amsl)", "format": ",.0f", "values": [1490, 1500, 1510, 1520, 1530], "grid": true}}},
   "layer": [
    {"data": {"name": "t3"}, "transform": [{"filter": "!datum.o"}], "mark": {"type": "line", "strokeWidth": 4.5, "clip": true}, "encoding": {"color": {"datum": "WMW4.9S Transducer", "type": "nominal", "scale": {"domain": ["WMW4.9S Transducer", "Bostic Gage"], "range": ["#0000ff", "#000000"]}}}},
    {"data": {"name": "g3"}, "mark": {"type": "line", "strokeWidth": 2.5, "clip": true}, "encoding": {"color": {"datum": "Bostic Gage", "type": "nominal", "scale": {"domain": ["WMW4.9S Transducer", "Bostic Gage"], "range": ["#0000ff", "#000000"]}}}},
    {"data": {"name": "s3"}, "mark": {"type": "rule", "color": "black", "strokeWidth": 1.3}, "encoding": {"y2": {"field": "p"}}}
   ]},
  {"data": {"name": "t3"}, "mark": {"type": "point", "filled": true, "size": 16, "opacity": 1, "clip": true},
   "encoding": {
    "x": {"field": "d", "type": "temporal", "scale": {"type": "utc", "domain": [{"year": 2016, "month": 10, "date": 1, "utc": true}, {"year": 2019, "month": 1, "date": 8, "hours": 12, "utc": true}]}, "axis": {"orient": "top", "title": null, "labels": false, "values": [{"year":2016,"month":12,"date":1,"utc":true},{"year":2017,"month":3,"date":1,"utc":true},{"year":2017,"month":6,"date":1,"utc":true},{"year":2017,"month":9,"date":1,"utc":true},{"year":2017,"month":12,"date":1,"utc":true},{"year":2018,"month":3,"date":1,"utc":true},{"year":2018,"month":6,"date":1,"utc":true},{"year":2018,"month":9,"date":1,"utc":true},{"year":2018,"month":12,"date":1,"utc":true}]}},
    "y": {"field": "v", "type": "quantitative", "scale": {"domain": [1485.3, 1530], "nice": false, "zero": false}, "axis": {"orient": "right", "title": null, "labels": false, "values": [1490, 1500, 1510, 1520, 1530]}},
    "color": {"datum": "WMW4.9S Transducer", "type": "nominal", "scale": {"domain": ["WMW4.9S Transducer", "Bostic Gage"], "range": ["#0000ff", "#000000"]}, "legend": {"title": null, "orient": "bottom-left", "offset": 10, "padding": 3.5, "rowPadding": 3, "fillColor": "white", "strokeColor": "#cccccc", "symbolSize": 25, "symbolOffset": 10, "labelOffset": 20, "labelFontSize": 16, "encode": {"symbols": {"stroke": {"condition": {"test": "indexof(datum.value,'Gage')>=0", "value": "black"}, "value": "transparent"}, "strokeWidth": {"value": 1.5}}, "legend": {"strokeWidth": {"value": 2}}}}},
    "shape": {"datum": "WMW4.9S Transducer", "type": "nominal", "scale": {"domain": ["WMW4.9S Transducer", "Bostic Gage"], "range": ["circle", "M-7.4,0H7.4"]}, "legend": {"title": null, "orient": "bottom-left", "offset": 10, "padding": 3.5, "rowPadding": 3, "fillColor": "white", "strokeColor": "#cccccc", "symbolSize": 25, "symbolOffset": 10, "labelOffset": 20, "labelFontSize": 16, "encode": {"symbols": {"stroke": {"condition": {"test": "indexof(datum.value,'Gage')>=0", "value": "black"}, "value": "transparent"}, "strokeWidth": {"value": 1.5}}, "legend": {"strokeWidth": {"value": 2}}}}}
   }}
 ],
 "resolve": {"axis": {"x": "independent", "y": "independent"}}
},
{"width": 1076, "height": 238,
 "layer": [
  {"encoding": {
    "x": {"field": "d", "type": "temporal", "scale": {"type": "utc", "domain": [{"year": 2016, "month": 10, "date": 1, "utc": true}, {"year": 2019, "month": 1, "date": 8, "hours": 12, "utc": true}]}, "axis": {"orient": "bottom", "title": "Date", "format": "%m-%y", "values": [{"year":2016,"month":12,"date":1,"utc":true},{"year":2017,"month":3,"date":1,"utc":true},{"year":2017,"month":6,"date":1,"utc":true},{"year":2017,"month":9,"date":1,"utc":true},{"year":2017,"month":12,"date":1,"utc":true},{"year":2018,"month":3,"date":1,"utc":true},{"year":2018,"month":6,"date":1,"utc":true},{"year":2018,"month":9,"date":1,"utc":true},{"year":2018,"month":12,"date":1,"utc":true}]}},
    "y": {"field": "v", "type": "quantitative", "scale": {"domain": [1464.81, 1479.78], "nice": false, "zero": false}, "axis": {"title": "GWE (ft amsl)", "format": ",.0f", "values": [1465, 1470, 1475], "grid": true}}},
   "layer": [
    {"data": {"name": "t4"}, "transform": [{"filter": "!datum.o"}], "mark": {"type": "line", "strokeWidth": 4.5, "clip": true}, "encoding": {"color": {"datum": "LNDMW1 Transducer", "type": "nominal", "scale": {"domain": ["LNDMW1 Transducer", "Homestead Gage"], "range": ["#0000ff", "#000000"]}}}},
    {"data": {"name": "g4"}, "mark": {"type": "line", "strokeWidth": 4.5, "clip": true}, "encoding": {"color": {"datum": "Homestead Gage", "type": "nominal", "scale": {"domain": ["LNDMW1 Transducer", "Homestead Gage"], "range": ["#0000ff", "#000000"]}}}},
    {"data": {"name": "s4"}, "mark": {"type": "rule", "color": "black", "strokeWidth": 1.3}, "encoding": {"y2": {"field": "p"}}}
   ]},
  {"data": {"name": "t4"}, "mark": {"type": "point", "filled": true, "size": 16, "opacity": 1, "clip": true},
   "encoding": {
    "x": {"field": "d", "type": "temporal", "scale": {"type": "utc", "domain": [{"year": 2016, "month": 10, "date": 1, "utc": true}, {"year": 2019, "month": 1, "date": 8, "hours": 12, "utc": true}]}, "axis": {"orient": "top", "title": null, "labels": false, "values": [{"year":2016,"month":12,"date":1,"utc":true},{"year":2017,"month":3,"date":1,"utc":true},{"year":2017,"month":6,"date":1,"utc":true},{"year":2017,"month":9,"date":1,"utc":true},{"year":2017,"month":12,"date":1,"utc":true},{"year":2018,"month":3,"date":1,"utc":true},{"year":2018,"month":6,"date":1,"utc":true},{"year":2018,"month":9,"date":1,"utc":true},{"year":2018,"month":12,"date":1,"utc":true}]}},
    "y": {"field": "v", "type": "quantitative", "scale": {"domain": [1464.81, 1479.78], "nice": false, "zero": false}, "axis": {"orient": "right", "title": null, "labels": false, "values": [1465, 1470, 1475]}},
    "color": {"datum": "LNDMW1 Transducer", "type": "nominal", "scale": {"domain": ["LNDMW1 Transducer", "Homestead Gage"], "range": ["#0000ff", "#000000"]}, "legend": {"title": null, "orient": "bottom-left", "offset": 10, "padding": 3.5, "rowPadding": 3, "fillColor": "white", "strokeColor": "#cccccc", "symbolSize": 25, "symbolOffset": 10, "labelOffset": 20, "labelFontSize": 16, "encode": {"symbols": {"stroke": {"condition": {"test": "indexof(datum.value,'Gage')>=0", "value": "black"}, "value": "transparent"}, "strokeWidth": {"value": 1.5}}, "legend": {"strokeWidth": {"value": 2}}}}},
    "shape": {"datum": "LNDMW1 Transducer", "type": "nominal", "scale": {"domain": ["LNDMW1 Transducer", "Homestead Gage"], "range": ["circle", "M-7.4,0H7.4"]}, "legend": {"title": null, "orient": "bottom-left", "offset": 10, "padding": 3.5, "rowPadding": 3, "fillColor": "white", "strokeColor": "#cccccc", "symbolSize": 25, "symbolOffset": 10, "labelOffset": 20, "labelFontSize": 16, "encode": {"symbols": {"stroke": {"condition": {"test": "indexof(datum.value,'Gage')>=0", "value": "black"}, "value": "transparent"}, "strokeWidth": {"value": 1.5}}, "legend": {"strokeWidth": {"value": 2}}}}}
   }}
 ],
 "resolve": {"axis": {"x": "independent", "y": "independent"}}
},
{"width": 1076, "height": 238,
 "layer": [
  {"encoding": {
    "x": {"field": "d", "type": "temporal", "scale": {"type": "utc", "domain": [{"year": 2016, "month": 10, "date": 1, "utc": true}, {"year": 2019, "month": 1, "date": 8, "hours": 12, "utc": true}]}, "axis": {"orient": "bottom", "title": "Date", "format": "%m-%y", "values": [{"year":2016,"month":12,"date":1,"utc":true},{"year":2017,"month":3,"date":1,"utc":true},{"year":2017,"month":6,"date":1,"utc":true},{"year":2017,"month":9,"date":1,"utc":true},{"year":2017,"month":12,"date":1,"utc":true},{"year":2018,"month":3,"date":1,"utc":true},{"year":2018,"month":6,"date":1,"utc":true},{"year":2018,"month":9,"date":1,"utc":true},{"year":2018,"month":12,"date":1,"utc":true}]}},
    "y": {"field": "v", "type": "quantitative", "scale": {"domain": [1432.38, 1448.36], "nice": false, "zero": false}, "axis": {"title": "GWE (ft amsl)", "format": ",.0f", "values": [1435, 1440, 1445], "grid": true}}},
   "layer": [
    {"data": {"name": "t5"}, "transform": [{"filter": "!datum.o"}], "mark": {"type": "line", "strokeWidth": 5.5, "clip": true}, "encoding": {"color": {"datum": "WMW3.5S Transducer", "type": "nominal", "scale": {"domain": ["WMW3.5S Transducer", "Three Kids Gage"], "range": ["#0000ff", "#000000"]}}}},
    {"data": {"name": "g5"}, "mark": {"type": "line", "strokeWidth": 3, "clip": true}, "encoding": {"color": {"datum": "Three Kids Gage", "type": "nominal", "scale": {"domain": ["WMW3.5S Transducer", "Three Kids Gage"], "range": ["#0000ff", "#000000"]}}}},
    {"data": {"name": "s5"}, "mark": {"type": "rule", "color": "black", "strokeWidth": 1.3}, "encoding": {"y2": {"field": "p"}}}
   ]},
  {"data": {"name": "t5"}, "mark": {"type": "point", "filled": true, "size": 16, "opacity": 1, "clip": true},
   "encoding": {
    "x": {"field": "d", "type": "temporal", "scale": {"type": "utc", "domain": [{"year": 2016, "month": 10, "date": 1, "utc": true}, {"year": 2019, "month": 1, "date": 8, "hours": 12, "utc": true}]}, "axis": {"orient": "top", "title": null, "labels": false, "values": [{"year":2016,"month":12,"date":1,"utc":true},{"year":2017,"month":3,"date":1,"utc":true},{"year":2017,"month":6,"date":1,"utc":true},{"year":2017,"month":9,"date":1,"utc":true},{"year":2017,"month":12,"date":1,"utc":true},{"year":2018,"month":3,"date":1,"utc":true},{"year":2018,"month":6,"date":1,"utc":true},{"year":2018,"month":9,"date":1,"utc":true},{"year":2018,"month":12,"date":1,"utc":true}]}},
    "y": {"field": "v", "type": "quantitative", "scale": {"domain": [1432.38, 1448.36], "nice": false, "zero": false}, "axis": {"orient": "right", "title": null, "labels": false, "values": [1435, 1440, 1445]}},
    "color": {"datum": "WMW3.5S Transducer", "type": "nominal", "scale": {"domain": ["WMW3.5S Transducer", "Three Kids Gage"], "range": ["#0000ff", "#000000"]}, "legend": {"title": null, "orient": "bottom-left", "offset": 10, "padding": 3.5, "rowPadding": 3, "fillColor": "white", "strokeColor": "#cccccc", "symbolSize": 25, "symbolOffset": 10, "labelOffset": 20, "labelFontSize": 16, "encode": {"symbols": {"stroke": {"condition": {"test": "indexof(datum.value,'Gage')>=0", "value": "black"}, "value": "transparent"}, "strokeWidth": {"value": 1.5}}, "legend": {"strokeWidth": {"value": 2}}}}},
    "shape": {"datum": "WMW3.5S Transducer", "type": "nominal", "scale": {"domain": ["WMW3.5S Transducer", "Three Kids Gage"], "range": ["circle", "M-7.4,0H7.4"]}, "legend": {"title": null, "orient": "bottom-left", "offset": 10, "padding": 3.5, "rowPadding": 3, "fillColor": "white", "strokeColor": "#cccccc", "symbolSize": 25, "symbolOffset": 10, "labelOffset": 20, "labelFontSize": 16, "encode": {"symbols": {"stroke": {"condition": {"test": "indexof(datum.value,'Gage')>=0", "value": "black"}, "value": "transparent"}, "strokeWidth": {"value": 1.5}}, "legend": {"strokeWidth": {"value": 2}}}}}
   }}
 ],
 "resolve": {"axis": {"x": "independent", "y": "independent"}}
}
],
"resolve": {"scale": {"color": "independent", "shape": "independent"}, "legend": {"color": "independent", "shape": "independent"}},
"config": {
 "font": "Liberation Sans",
 "view": {"stroke": "black", "strokeWidth": 2},
 "axis": {"labelFont": "Liberation Sans", "labelFontSize": 21, "labelColor": "black", "titleFont": "Liberation Sans", "titleFontSize": 26.5, "titleFontWeight": "normal", "titleColor": "black", "tickColor": "black", "tickWidth": 1.3, "tickSize": -7, "domain": false, "grid": false, "gridDash": [4, 2.5], "gridColor": "#808080", "gridWidth": 1},
 "axisX": {"labelPadding": 15, "titlePadding": 11},
 "axisY": {"labelPadding": 19, "titlePadding": 14},
 "legend": {"labelFont": "Liberation Sans", "labelColor": "black", "labelLimit": 400}
}
}
